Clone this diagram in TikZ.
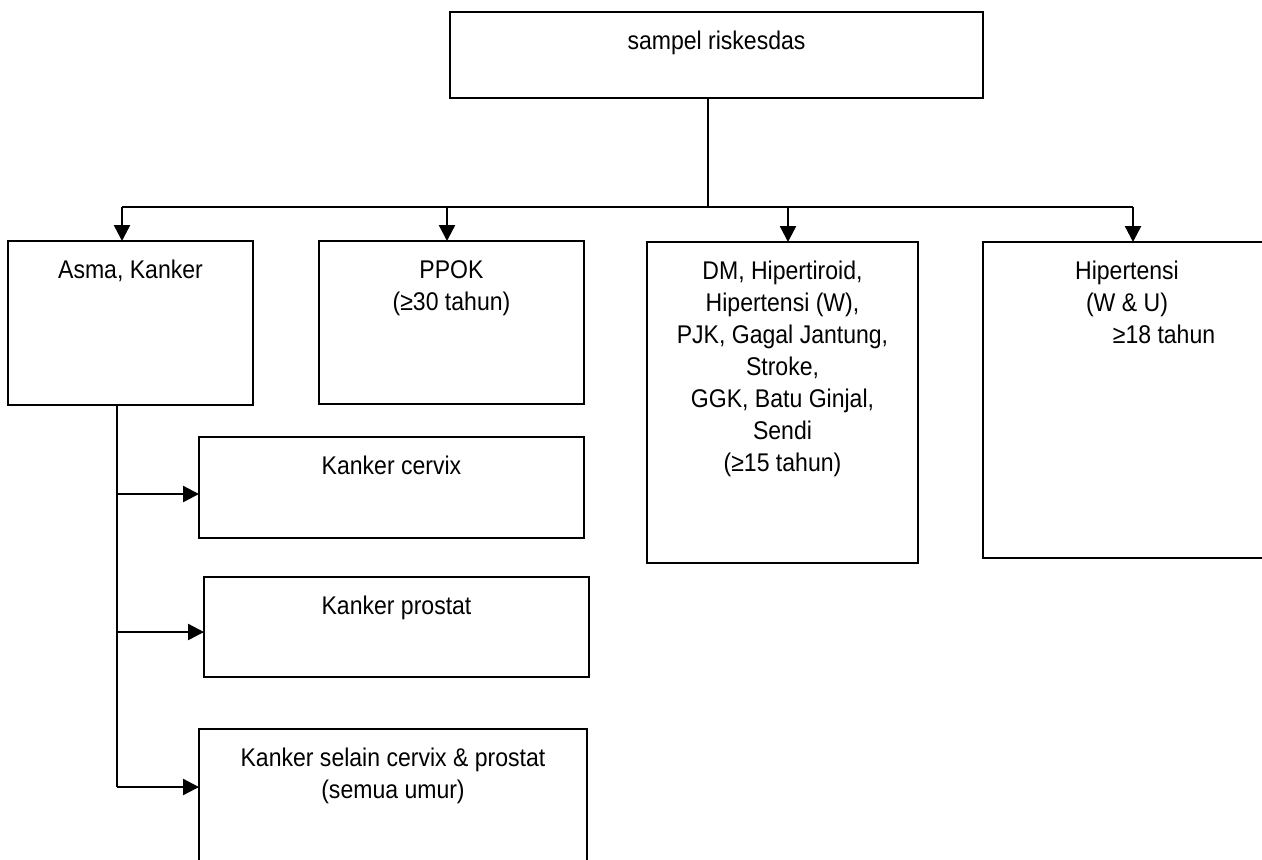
\documentclass[tikz,border=0pt]{standalone}
\usepackage{fontspec}
\setmainfont{Liberation Sans}[FakeStretch=0.9]
\usepackage{tikz}
\usetikzlibrary{arrows.meta, positioning}

\begin{document}
\begin{tikzpicture}[
    x=0.5pt, y=-0.5pt,
    box/.style={rectangle, draw, line width=1.2pt, inner sep=0pt, outer sep=0pt},
    txt/.style={anchor=north, inner sep=0pt, align=center, font=\fontsize{12.8}{16}\selectfont},
    line/.style={line width=1.2pt},
    arrow/.style={-{Triangle[length=8pt,width=8pt]}, line width=1.2pt}
]
\useasboundingbox (0,0) rectangle (1262,859);
\clip (0,0) rectangle (1262,859);

% Boxes
\node[box, minimum width=266.5pt, minimum height=43pt] (sampel) at (716.5,55) {};
\node[box, minimum width=122.5pt, minimum height=82pt] (asma) at (130.5,323) {};
\node[box, minimum width=132.5pt, minimum height=81.5pt] (ppok) at (451.5,322.5) {};
\node[box, minimum width=135.5pt, minimum height=160.5pt] (dm) at (782.5,402.5) {};
\node[box, minimum width=150pt, minimum height=158pt] (hiper) at (1133,400) {};
\node[box, minimum width=192.5pt, minimum height=50.5pt] (cervix) at (391.5,487.5) {};
\node[box, minimum width=192.5pt, minimum height=50pt] (prostat) at (396.5,627) {};
\node[box, minimum width=194pt, minimum height=85.5pt] (lain) at (393,814.5) {};

% Texts
\node[txt] (sampeltxt) at ([yshift=-9.4pt]sampel.north) {sampel riskesdas};
\node[txt] (asmatxt) at ([yshift=-9.4pt]asma.north) {Asma, Kanker};
\node[txt] (ppoktxt) at ([yshift=-9.4pt]ppok.north) {PPOK\\(≥30 tahun)};
\node[txt] (dmtxt) at ([yshift=-9.4pt]dm.north) {DM, Hipertiroid,\\Hipertensi (W),\\PJK, Gagal Jantung,\\Stroke,\\GGK, Batu Ginjal,\\Sendi\\(≥15 tahun)};
\node[txt] (hipertxt) at ([xshift=-3pt,yshift=-9.4pt]hiper.north) {Hipertensi\\(W \& U)\\\hspace*{37pt}≥18 tahun};
\node[txt] (cervixtxt) at ([yshift=-9.4pt]cervix.north) {Kanker cervix};
\node[txt] (prostattxt) at ([yshift=-9.4pt]prostat.north) {Kanker prostat};
\node[txt] (laintxt) at ([yshift=-9.4pt]lain.north) {Kanker selain cervix \& prostat\\(semua umur)};

% Branch points
\coordinate (bus) at (708,207);
\coordinate (trunk) at ([xshift=-6.75pt]asma.south);
\coordinate (cervixin) at ([yshift=-3.25pt]cervix.west);
\coordinate (prostatin) at ([yshift=-2.5pt]prostat.west);
\coordinate (lainin) at ([yshift=-29pt]lain.north west);

\draw[line] (bus |- sampel.south) -- (bus);
\draw[line] ([xshift=-4.25pt]asma.north |- bus) -- (hiper.north |- bus);
\draw[arrow] ([xshift=-4.25pt]asma.north |- bus) -- ([xshift=-4.25pt]asma.north);
\draw[arrow] ([xshift=-2.25pt]ppok.north |- bus) -- ([xshift=-2.25pt]ppok.north);
\draw[arrow] ([xshift=2.75pt]dm.north |- bus) -- ([xshift=2.75pt]dm.north);
\draw[arrow] (hiper.north |- bus) -- (hiper.north);

% Kanker branches
\draw[line] (trunk) -- (trunk |- lainin);
\draw[arrow] (trunk |- cervixin) -- (cervixin);
\draw[arrow] (trunk |- prostatin) -- (prostatin);
\draw[arrow] (trunk |- lainin) -- (lainin);
\end{tikzpicture}
\end{document}
